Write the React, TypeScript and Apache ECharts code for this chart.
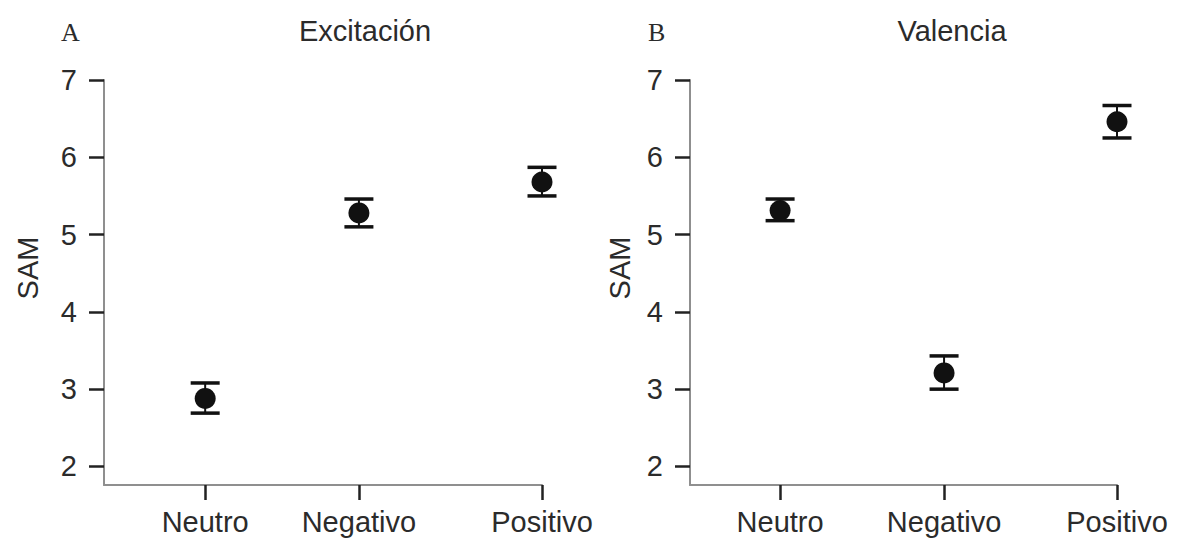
import React, { useEffect, useRef } from "react";
import * as echarts from "echarts";

const categories = ["Neutro", "Negativo", "Positivo"];
// category positions along each x axis (axis runs 0..100)
const leftCatPos = [23.1, 58.2, 100];
const rightCatPos = [21.1, 59.5, 100];
const yTicks = [2, 3, 4, 5, 6, 7];

const excitacionMean = [2.88, 5.28, 5.68];
const excitacionLower = [2.69, 5.1, 5.5];
const excitacionUpper = [3.08, 5.46, 5.87];

const valenciaMean = [5.31, 3.21, 6.46];
const valenciaLower = [5.18, 3.0, 6.25];
const valenciaUpper = [5.46, 3.43, 6.67];

const FONT = "'Liberation Sans', Arial, sans-serif";
const SERIF = "'Liberation Serif', 'DejaVu Serif', serif";
const TEXT = "#2b2b2b";
const AXIS = "#8f8f8f";
const TICK = "#222222";
const FS = 29;

export default function App() {
  const ref = useRef<HTMLDivElement>(null);
  useEffect(() => {
    if (!ref.current) return;
    const chart = echarts.init(ref.current, null, { renderer: "svg" });

    const mkX = (idx: number, pos: number[]) => ({
      type: "value",
      gridIndex: idx,
      min: 0,
      max: 100,
      axisLine: { show: true, onZero: false, lineStyle: { color: AXIS, width: 2 } },
      axisTick: { show: true, length: 15, customValues: pos, lineStyle: { color: TICK, width: 2.5 } },
      axisLabel: {
        show: true,
        customValues: pos,
        margin: 22,
        fontSize: FS,
        fontFamily: FONT,
        color: TEXT,
        formatter: (v: number) => {
          const i = pos.findIndex((p) => Math.abs(p - v) < 1e-6);
          return i >= 0 ? categories[i] : "";
        },
      },
      splitLine: { show: false },
    });

    const mkY = (idx: number) => ({
      type: "value",
      gridIndex: idx,
      min: 1.76,
      max: 7,
      axisLine: { show: true, onZero: false, lineStyle: { color: AXIS, width: 2 } },
      axisTick: { show: true, length: 15, customValues: yTicks, lineStyle: { color: TICK, width: 2.5 } },
      axisLabel: {
        show: true,
        customValues: yTicks,
        margin: 27,
        fontSize: FS,
        fontFamily: FONT,
        color: TEXT,
      },
      splitLine: { show: false },
    });

    const errRender = (params: any, api: any) => {
      const x = api.value(0);
      const lo = api.value(1);
      const hi = api.value(2);
      const top = api.coord([x, hi]);
      const bot = api.coord([x, lo]);
      const hw = 14.5;
      return {
        type: "group",
        children: [
          { type: "line", shape: { x1: top[0], y1: top[1], x2: bot[0], y2: bot[1] }, style: { stroke: "#111", lineWidth: 2 } },
          { type: "line", shape: { x1: top[0] - hw, y1: top[1], x2: top[0] + hw, y2: top[1] }, style: { stroke: "#111", lineWidth: 3.5 } },
          { type: "line", shape: { x1: bot[0] - hw, y1: bot[1], x2: bot[0] + hw, y2: bot[1] }, style: { stroke: "#111", lineWidth: 3.5 } },
        ],
      };
    };

    const errData = (pos: number[], lo: number[], hi: number[]) => pos.map((p, i) => [p, lo[i], hi[i]]);
    const meanData = (pos: number[], m: number[]) => pos.map((p, i) => [p, m[i]]);

    chart.setOption({
      animation: false,
      backgroundColor: "#ffffff",
      grid: [
        { left: 104, top: 80, width: 438, height: 405 },
        { left: 690, top: 80, width: 427, height: 405 },
      ],
      xAxis: [mkX(0, leftCatPos), mkX(1, rightCatPos)],
      yAxis: [mkY(0), mkY(1)],
      graphic: [
        { type: "text", x: 61, y: 32, style: { text: "A", fontSize: 26, fontFamily: SERIF, fill: TEXT, verticalAlign: "middle" } },
        { type: "text", x: 648, y: 32, style: { text: "B", fontSize: 26, fontFamily: SERIF, fill: TEXT, verticalAlign: "middle" } },
        { type: "text", x: 365, y: 31, style: { text: "Excitación", fontSize: FS, fontFamily: FONT, fill: TEXT, align: "center", verticalAlign: "middle" } },
        { type: "text", x: 952, y: 31, style: { text: "Valencia", fontSize: FS, fontFamily: FONT, fill: TEXT, align: "center", verticalAlign: "middle" } },
        { type: "text", x: 28, y: 268, rotation: Math.PI / 2, style: { text: "SAM", fontSize: FS, fontFamily: FONT, fill: TEXT, align: "center", verticalAlign: "middle" } },
        { type: "text", x: 620, y: 268, rotation: Math.PI / 2, style: { text: "SAM", fontSize: FS, fontFamily: FONT, fill: TEXT, align: "center", verticalAlign: "middle" } },
      ],
      series: [
        {
          type: "custom",
          xAxisIndex: 0,
          yAxisIndex: 0,
          renderItem: errRender,
          encode: { x: 0, y: [1, 2] },
          data: errData(leftCatPos, excitacionLower, excitacionUpper),
          z: 2,
        },
        {
          type: "scatter",
          xAxisIndex: 0,
          yAxisIndex: 0,
          symbolSize: 21,
          itemStyle: { color: "#111111", opacity: 1 },
          data: meanData(leftCatPos, excitacionMean),
          z: 3,
        },
        {
          type: "custom",
          xAxisIndex: 1,
          yAxisIndex: 1,
          renderItem: errRender,
          encode: { x: 0, y: [1, 2] },
          data: errData(rightCatPos, valenciaLower, valenciaUpper),
          z: 2,
        },
        {
          type: "scatter",
          xAxisIndex: 1,
          yAxisIndex: 1,
          symbolSize: 21,
          itemStyle: { color: "#111111", opacity: 1 },
          data: meanData(rightCatPos, valenciaMean),
          z: 3,
        },
      ],
    });
    return () => chart.dispose();
  }, []);
  return (
    <div
      ref={ref}
      style={{ position: "fixed", left: 0, top: 0, width: 1191, height: 546, background: "#fff" }}
    />
  );
}
